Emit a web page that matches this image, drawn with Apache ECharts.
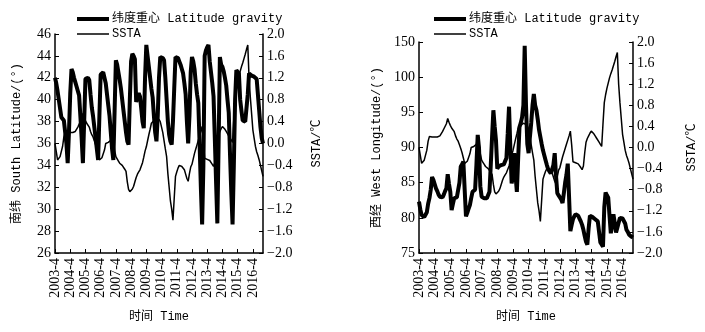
<!DOCTYPE html>
<html>
<head>
<meta charset="utf-8">
<script src="https://cdn.jsdelivr.net/npm/echarts/dist/echarts.min.js"></script>
<style>
html, body { margin: 0; padding: 0; background: #fff; }
#main { width: 705px; height: 332px; }
</style>
</head>
<body>
<div id="main"></div>
<script>
// monthly values, 2003-4 .. 2016-12
var startYear = 2003, startMonth = 4, endYear = 2016;

// 纬度重心 (south latitude, deg)
var latitude = [
  42.0, 41.5, 40.8, 40.0, 39.2, 38.4, 38.3, 38.1, 38.0, 36.0, 34.2, 37.0,
  40.5, 42.8, 42.5, 42.0, 41.6, 41.2, 40.8, 40.4, 38.5, 36.5, 34.2, 38.0,
  41.9, 42.0, 42.0, 41.8, 40.5, 39.3, 38.5, 37.5, 36.5, 35.5, 34.5, 38.5,
  42.3, 42.4, 42.5, 42.5, 41.5, 40.5, 39.5, 38.5, 37.0, 35.5, 34.5, 39.0,
  43.6, 43.2, 42.5, 41.8, 41.0, 40.0, 39.0, 38.0, 37.0, 36.2, 35.9, 40.0,
  43.5, 44.2, 44.0, 43.7, 39.8, 40.2, 40.6, 40.3, 39.2, 38.0, 37.4, 42.0,
  45.0, 44.0, 43.0, 42.0, 41.0, 40.2, 38.5, 37.0, 36.2, 38.5, 42.0, 43.9,
  43.9, 43.8, 43.6, 42.0, 40.0, 38.0, 36.8, 36.2, 35.9, 38.0, 41.0, 43.9,
  43.9, 43.8, 43.5, 43.2, 42.8, 42.4, 41.5, 40.5, 38.0, 36.0, 38.5, 42.5,
  43.9, 43.5, 42.8, 41.5, 40.5, 39.7, 36.0, 32.0, 28.6, 34.0, 44.0, 44.5,
  44.8, 45.0, 43.5, 42.5, 41.5, 40.3, 36.5, 32.5, 28.7, 36.0, 43.9, 43.2,
  43.0, 42.6, 42.0, 41.3, 40.0, 38.8, 35.0, 31.5, 28.6, 34.0, 40.0, 42.7,
  42.6, 42.4, 40.0, 39.0, 38.1, 38.0, 38.0, 38.0, 40.5, 42.4, 42.3, 42.2,
  42.2, 42.1, 42.0, 41.9, 41.8, 39.0, 37.5, 36.5, 36.0
];

// 经度重心 (west longitude, deg)
var longitude = [
  82.3, 81.2, 80.4, 80.2, 80.1, 80.0, 80.8, 82.0, 82.8, 84.0, 85.8, 85.4,
  84.8, 84.2, 83.8, 83.3, 83.0, 83.0, 82.9, 83.3, 83.8, 84.2, 86.2, 84.8,
  83.7, 81.1, 82.0, 82.8, 82.8, 82.9, 82.9, 85.0, 87.3, 87.6, 88.0, 84.0,
  80.2, 80.7, 81.3, 81.8, 82.8, 83.7, 83.8, 84.0, 87.5, 91.8, 89.9, 84.5,
  83.0, 82.8, 82.8, 82.8, 82.8, 83.0, 83.7, 87.5, 91.5, 95.3, 93.0, 91.0,
  87.0, 87.3, 87.4, 87.5, 87.5, 87.6, 87.7, 88.5, 92.0, 95.8, 90.0, 84.9,
  86.0, 89.2, 86.0, 83.7, 88.5, 92.9, 93.5, 94.3, 96.0, 144.7, 96.0, 90.5,
  89.2, 91.5, 93.5, 96.0, 97.6, 96.0, 95.3, 94.0, 92.5, 91.5, 90.5, 89.6,
  88.9, 88.2, 87.5, 86.9, 86.6, 86.3, 86.1, 87.5, 89.2, 86.0, 83.5, 83.2,
  83.0, 82.6, 82.1, 83.5, 85.0, 86.1, 87.7, 83.0, 78.1, 79.0, 79.8, 80.2,
  80.5, 80.7, 80.3, 79.9, 79.5, 79.0, 78.3, 77.4, 76.6, 76.2, 78.5, 80.3,
  80.2, 80.1, 80.0, 79.8, 79.7, 79.5, 78.0, 76.5, 76.2, 75.9, 81.5, 83.6,
  83.2, 82.9, 80.3, 77.8, 79.0, 80.5, 79.3, 77.9, 78.6, 79.3, 80.0, 80.0,
  79.9, 79.8, 79.2, 78.3, 78.0, 77.6, 77.5, 77.3, 77.2
];

// SSTA (deg C)
var ssta = [
  0.0, -0.15, -0.3, -0.28, -0.24, -0.21, -0.05, 0.12, 0.21, 0.2, 0.2, 0.2,
  0.2, 0.2, 0.2, 0.2, 0.22, 0.24, 0.3, 0.35, 0.38, 0.45, 0.55, 0.48,
  0.42, 0.37, 0.34, 0.3, 0.22, 0.16, 0.12, 0.05, -0.02, -0.1, -0.2, -0.3,
  -0.28, -0.26, -0.24, -0.12, 0.0, 0.0, 0.02, 0.04, 0.06, 0.2, 0.08, -0.12,
  -0.24, -0.28, -0.32, -0.36, -0.38, -0.4, -0.42, -0.47, -0.51, -0.7, -0.84, -0.88,
  -0.86, -0.83, -0.78, -0.7, -0.62, -0.56, -0.52, -0.48, -0.45, -0.35, -0.25, -0.14,
  -0.06, 0.05, 0.16, 0.26, 0.37, 0.39, 0.42, 0.44, 0.46, 0.45, 0.44, 0.4,
  0.3, 0.2, 0.05, -0.1, -0.24, -0.55, -0.8, -1.05, -1.2, -1.4, -1.0, -0.6,
  -0.52, -0.45, -0.4, -0.39, -0.42, -0.45, -0.48, -0.56, -0.64, -0.69, -0.55, -0.43,
  -0.38, -0.28, -0.18, -0.1, -0.02, 0.06, 0.14, 0.22, 0.31, 0.05, -0.27, -0.28,
  -0.29, -0.3, -0.31, -0.33, -0.38, -0.42, -0.35, -0.1, 0.1, 0.17, 0.22, 0.27,
  0.31, 0.29, 0.26, 0.22, 0.18, 0.15, 0.1, 0.06, 0.02, 0.45, 0.85, 1.0,
  1.12, 1.22, 1.32, 1.4, 1.47, 1.55, 1.63, 1.72, 1.8, 1.2, 0.85, 0.55,
  0.25, 0.1, -0.05, -0.15, -0.22, -0.3, -0.4, -0.5, -0.6
];

var nameLat = '纬度重心 Latitude gravity';
var nameSst = 'SSTA';

var months = [];
for (var y = startYear; y <= endYear; y++) {
    for (var m = 1; m <= 12; m++) {
        if (y == startYear && m < startMonth) continue;
        months.push(y + '-' + m);
    }
}

// right panel has a broken axis: 100..150 squeezed into one 5-degree step
function brk(v) { return v > 100 ? 100 + (v - 100) / 10 : v; }
var longitudePlot = longitude.map(brk);

var serif = "'Liberation Serif', 'Noto Sans CJK SC', serif";
var mono = "'Liberation Mono', 'Noto Sans CJK SC', monospace";

function sstaLabel(v) {
    return (v < -0.001 ? '\u2212' : '') + Math.abs(v).toFixed(1);
}

function xAxisFor(grid) {
    return {
        type: 'category',
        gridIndex: grid,
        data: months,
        boundaryGap: false,
        name: '时间 Time',
        nameLocation: 'middle',
        nameGap: 58,
        nameTextStyle: { fontFamily: mono, fontSize: 12, color: '#000' },
        axisLine: { onZero: false, lineStyle: { color: '#000', width: 1.5 } },
        axisTick: { inside: true, length: 4, interval: function (i) { return i % 12 === 0; }, lineStyle: { color: '#000' } },
        axisLabel: {
            interval: function (i) { return i % 12 === 0; },
            rotate: 90, margin: 5, color: '#000', fontFamily: serif, fontSize: 14
        },
        splitLine: { show: false }
    };
}

function sstaAxis(grid, gap) {
    return {
        type: 'value',
        gridIndex: grid,
        position: 'right',
        min: -2, max: 2, interval: 0.4,
        name: 'SSTA/℃',
        nameLocation: 'middle',
        nameRotate: 90,
        nameGap: gap,
        nameTextStyle: { fontFamily: mono, fontSize: 12, color: '#000' },
        axisLine: { show: true, onZero: false, lineStyle: { color: '#000', width: 1.5 } },
        axisTick: { show: true, inside: true, length: 4, lineStyle: { color: '#000' } },
        axisLabel: { formatter: sstaLabel, margin: 4, color: '#000', fontFamily: serif, fontSize: 14 },
        splitLine: { show: false }
    };
}

function legendAt(left) {
    return {
        left: left,
        top: 8,
        orient: 'vertical',
        itemWidth: 32,
        itemHeight: 14,
        itemGap: 3,
        itemStyle: { opacity: 0 },
        data: [
            { name: nameLat, lineStyle: { color: '#000', width: 4 } },
            { name: nameSst, lineStyle: { color: '#000', width: 1.5 } }
        ],
        textStyle: { fontFamily: mono, fontSize: 12, color: '#000', padding: [0, 0, 0, -2] }
    };
}

var myChart = echarts.init(document.getElementById('main'));

var option = {
    animation: false,
    backgroundColor: '#fff',
    legend: [legendAt(70), legendAt(427)],
    grid: [
        { left: 55, top: 34, width: 208, height: 219 },
        { left: 419, top: 42, width: 214, height: 211 }
    ],
    xAxis: [xAxisFor(0), xAxisFor(1)],
    yAxis: [
        {
            type: 'value',
            gridIndex: 0,
            min: 26, max: 46, interval: 2,
            name: '南纬 South Latitude/(°)',
            nameLocation: 'middle',
            nameGap: 32,
            nameTextStyle: { fontFamily: mono, fontSize: 12, color: '#000' },
            axisLine: { show: true, onZero: false, lineStyle: { color: '#000', width: 1.5 } },
            axisTick: { show: true, inside: true, length: 4, lineStyle: { color: '#000' } },
            axisLabel: { margin: 4, color: '#000', fontFamily: serif, fontSize: 14 },
            splitLine: { show: false }
        },
        sstaAxis(0, 48),
        {
            type: 'value',
            gridIndex: 1,
            min: 75, max: 105, interval: 5,
            name: '西经 West Longitude/(°)',
            nameLocation: 'middle',
            nameGap: 36,
            nameTextStyle: { fontFamily: mono, fontSize: 12, color: '#000' },
            axisLine: { show: true, onZero: false, lineStyle: { color: '#000', width: 1.5 } },
            axisTick: { show: true, inside: true, length: 4, lineStyle: { color: '#000' } },
            axisLabel: {
                margin: 4, color: '#000', fontFamily: serif, fontSize: 14,
                formatter: function (v) { return v > 100 ? String(Math.round(100 + (v - 100) * 10)) : String(v); }
            },
            splitLine: { show: false }
        },
        sstaAxis(1, 53)
    ],
    series: [
        {
            name: nameLat, type: 'line', xAxisIndex: 0, yAxisIndex: 0,
            data: latitude, symbol: 'none',
            lineStyle: { color: '#000', width: 4 }, itemStyle: { color: '#000' }
        },
        {
            name: nameSst, type: 'line', xAxisIndex: 0, yAxisIndex: 1,
            data: ssta, symbol: 'none',
            lineStyle: { color: '#000', width: 1.5 }, itemStyle: { color: '#000' }
        },
        {
            name: nameLat, type: 'line', xAxisIndex: 1, yAxisIndex: 2,
            data: longitudePlot, symbol: 'none',
            lineStyle: { color: '#000', width: 4 }, itemStyle: { color: '#000' }
        },
        {
            name: nameSst, type: 'line', xAxisIndex: 1, yAxisIndex: 3,
            data: ssta, symbol: 'none',
            lineStyle: { color: '#000', width: 1.5 }, itemStyle: { color: '#000' }
        }
    ]
};

myChart.setOption(option);
</script>
</body>
</html>
